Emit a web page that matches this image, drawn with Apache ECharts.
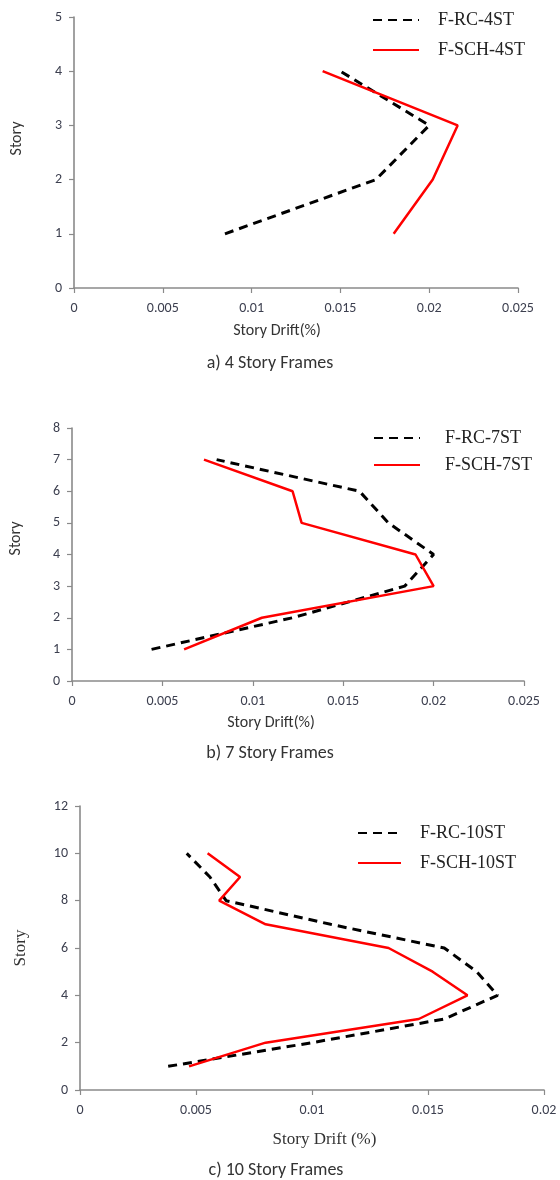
<!DOCTYPE html>
<html>
<head>
<meta charset="utf-8">
<script src="https://cdn.jsdelivr.net/npm/echarts@6/dist/echarts.min.js"></script>
<style>
html,body{margin:0;padding:0;background:#fff;}
#chart{width:560px;height:1180px;}
</style>
</head>
<body>
<div id="chart"></div>
<script>
// ---- Data ----
const stories4 = [1, 2, 3, 4];
const rc4  = [0.0085, 0.0170, 0.0200, 0.0150];
const sch4 = [0.0180, 0.0202, 0.0216, 0.0140];

const stories7 = [1, 2, 3, 4, 5, 6, 7];
const rc7  = [0.0044, 0.0122, 0.0184, 0.0200, 0.0175, 0.0159, 0.0080];
const sch7 = [0.0062, 0.0105, 0.0200, 0.0190, 0.0127, 0.0122, 0.0073];

const stories10 = [1, 2, 3, 4, 5, 6, 7, 8, 9, 10];
const rc10  = [0.0038, 0.0100, 0.0157, 0.0180, 0.0171, 0.0157, 0.0108, 0.0063, 0.0056, 0.0046];
const sch10 = [0.0047, 0.0080, 0.0146, 0.0167, 0.0152, 0.0133, 0.0080, 0.0060, 0.0069, 0.0055];

const seriesNames = [['F-RC-4ST','F-SCH-4ST'],['F-RC-7ST','F-SCH-7ST'],['F-RC-10ST','F-SCH-10ST']];
const captions = ['a) 4 Story Frames', 'b) 7 Story Frames', 'c) 10 Story Frames'];
const xNames = ['Story Drift(%)', 'Story Drift(%)', 'Story Drift (%)'];
const yName = 'Story';

// ---- Styles ----
const SANS = 'Carlito, Lato, "Open Sans", sans-serif';
const SERIF = '"Liberation Serif", "DejaVu Serif", serif';
const AX = '#8a8a8a';
const LBL = '#3c3f4f';

function pair(xs, ys){ return xs.map((v,i)=>[v, ys[i]]); }
function fmt(v){ return String(Math.round(v*1000)/1000); }

const grids = [
  {left:74, right:42, top:17, height:271},
  {left:72, right:36, top:428, height:253},
  {left:80, right:16, top:806, height:284}
];

const xCfg = [
  {max:0.025, name:xNames[0], font:SANS, size:16, pad:[0,38,0,0], gap:35},
  {max:0.025, name:xNames[1], font:SANS, size:16, pad:[0,54,0,0], gap:34},
  {max:0.02,  name:xNames[2], font:SERIF, size:17, pad:[0,0,0,25], gap:41}
];
const yCfg = [
  {max:5, interval:1, font:SANS, size:16, pad:[0,0,0,28], gap:49},
  {max:8, interval:1, font:SANS, size:16, pad:[0,0,0,32], gap:48},
  {max:12, interval:2, font:SERIF, size:17, pad:[0,0,0,0], gap:51}
];

const xAxis = xCfg.map((c,i)=>({
  type:'value', gridIndex:i, min:0, max:c.max, interval:0.005,
  name:c.name, nameLocation:'middle', nameGap:c.gap,
  nameTextStyle:{fontFamily:c.font, fontSize:c.size, color:'#333', padding:c.pad},
  axisLine:{show:true, lineStyle:{color:AX, width:1.6}},
  axisTick:{show:true, inside:false, length:5, lineStyle:{color:AX, width:1.2}},
  axisLabel:{margin:13, fontFamily:SANS, fontSize:14, color:LBL, formatter:fmt},
  splitLine:{show:false}
}));

const yAxis = yCfg.map((c,i)=>({
  type:'value', gridIndex:i, min:0, max:c.max, interval:c.interval,
  name:yName, nameLocation:'middle', nameGap:c.gap, nameRotate:90,
  nameTextStyle:{fontFamily:c.font, fontSize:c.size, color:'#333', padding:c.pad},
  axisLine:{show:true, lineStyle:{color:AX, width:1.6}},
  axisTick:{show:true, inside:false, length:5, lineStyle:{color:AX, width:1.2}},
  axisLabel:{margin:12, fontFamily:SANS, fontSize:14, color:LBL},
  splitLine:{show:false}
}));

const dataSets = [[rc4, sch4, stories4],[rc7, sch7, stories7],[rc10, sch10, stories10]];
const series = [];
dataSets.forEach((d,i)=>{
  series.push({
    name:seriesNames[i][0], type:'line', xAxisIndex:i, yAxisIndex:i,
    data:pair(d[0], d[2]), symbol:'none', silent:true, z:2,
    lineStyle:{color:'#000', width:3, type:[9,6]},
    itemStyle:{color:'#000'}
  });
  series.push({
    name:seriesNames[i][1], type:'line', xAxisIndex:i, yAxisIndex:i,
    data:pair(d[1], d[2]), symbol:'none', silent:true, z:3,
    lineStyle:{color:'#ff0000', width:2.5},
    itemStyle:{color:'#ff0000'}
  });
});

const legendPos = [
  {left:367, top:6, gap:12, w:46, pad:14},
  {left:368, top:424, gap:9, w:46, pad:20},
  {left:352, top:819, gap:12, w:43, pad:14}
];
const legend = legendPos.map((p,i)=>({
  data:seriesNames[i], orient:'vertical', left:p.left, top:p.top,
  itemWidth:p.w, itemHeight:14, itemGap:p.gap, selectedMode:false,
  itemStyle:{color:'rgba(0,0,0,0)', borderWidth:0, opacity:0},
  textStyle:{fontFamily:SERIF, fontSize:18, color:'#222', padding:[0,0,0,p.pad]}
}));

const capX = [270, 270, 276];
const capY = [363, 753, 1170];
const graphic = captions.map((t,i)=>({
  type:'text', x:capX[i], y:capY[i],
  style:{text:t, font:'18px ' + SANS, fill:'#333', align:'center', verticalAlign:'middle'}
}));

const chart = echarts.init(document.getElementById('chart'), null, {renderer:'canvas'});
chart.setOption({
  animation:false,
  backgroundColor:'#fff',
  grid:grids,
  xAxis:xAxis,
  yAxis:yAxis,
  legend:legend,
  series:series,
  graphic:graphic
});
</script>
</body>
</html>
